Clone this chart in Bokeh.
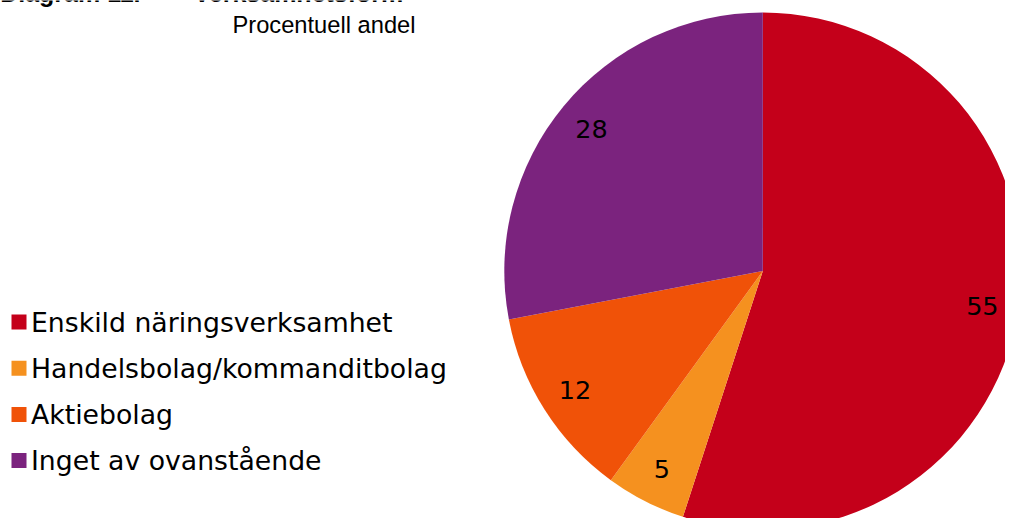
import math
import numpy as np
from bokeh.plotting import figure
from bokeh.models import Range1d, ColumnDataSource
from bokeh.core.properties import value
from bokeh.embed import file_html
from bokeh.resources import INLINE

# Data
categories = ["Enskild näringsverksamhet", "Handelsbolag/kommanditbolag", "Aktiebolag", "Inget av ovanstående"]
shares = [55, 5, 12, 28]
colors = ["#C4001A", "#F5911F", "#F05208", "#7B237E"]
title_num = "Diagram 11."
title_txt = "Verksamhetsform"
subtitle = "Procentuell andel"

W, H = 1005, 518
p = figure(width=W, height=H, output_backend="svg", toolbar_location=None,
           x_range=Range1d(0, W), y_range=Range1d(0, H), min_border=0)
p.axis.visible = False
p.grid.visible = False
p.outline_line_color = None
p.background_fill_color = "white"
p.border_fill_color = "white"

def X(px):
    return px

def Y(py):
    return H - py

# Pie geometry (layout)
cx, cy, R = X(762.3), Y(270.5), 258.5
vals = np.array(shares, dtype=float)
tot = vals.sum()
cum = np.cumsum(vals)
prev = cum - vals
start = math.pi / 2 - 2 * math.pi * prev / tot
end = math.pi / 2 - 2 * math.pi * cum / tot
mid = (start + end) / 2

src = ColumnDataSource(dict(start=start, end=end, color=colors,
                            x=[cx] * len(vals), y=[cy] * len(vals)))
p.wedge(x="x", y="y", radius=R, start_angle="start", end_angle="end",
        direction="clock", fill_color="color", line_color=None, source=src)

lr = 0.86 * R
lab = ColumnDataSource(dict(x=cx + lr * np.cos(mid), y=cy + lr * np.sin(mid),
                            t=[str(v) for v in shares]))
p.text(x="x", y="y", text="t", source=lab, text_align="center",
       text_baseline="middle",
       text_font=value("DejaVu Sans"), text_font_size="25.5px", text_color="black")

# Legend (manual)
ly0, ldy = 321.5, 46.2
leg_y = [Y(ly0 + i * ldy) for i in range(len(categories))]
leg = ColumnDataSource(dict(x=[X(18.5)] * len(categories), y=leg_y,
                            tx=[X(30.5)] * len(categories), c=colors, t=categories))
p.scatter(x="x", y="y", marker="square", size=15, fill_color="c", line_color=None, source=leg)
p.text(x="tx", y="y", text="t", source=leg, text_align="left",
       text_baseline="middle",
       text_font=value("DejaVu Sans"), text_font_size="26.7px", text_color="black")

# Title (cut off at the top edge, as in the reference)
p.text(x=[X(140)], y=[Y(1)], text=[title_num], text_align="right",
       text_baseline="middle", y_offset=-8.5, text_font=value("Liberation Sans"),
       text_font_style="bold", text_font_size="25px", text_color="black")
p.text(x=[X(193)], y=[Y(1)], text=[title_txt], text_align="left",
       text_baseline="middle", y_offset=-8.5, text_font=value("Liberation Sans"),
       text_font_style="bold", text_font_size="25px", text_color="black")

# Subtitle
p.text(x=[X(415)], y=[Y(24.5)], text=[subtitle], text_align="right",
       text_baseline="middle", text_font=value("Liberation Sans"),
       text_font_size="23.7px", text_color="black")

open("out.html", "w").write(file_html(p, INLINE))
